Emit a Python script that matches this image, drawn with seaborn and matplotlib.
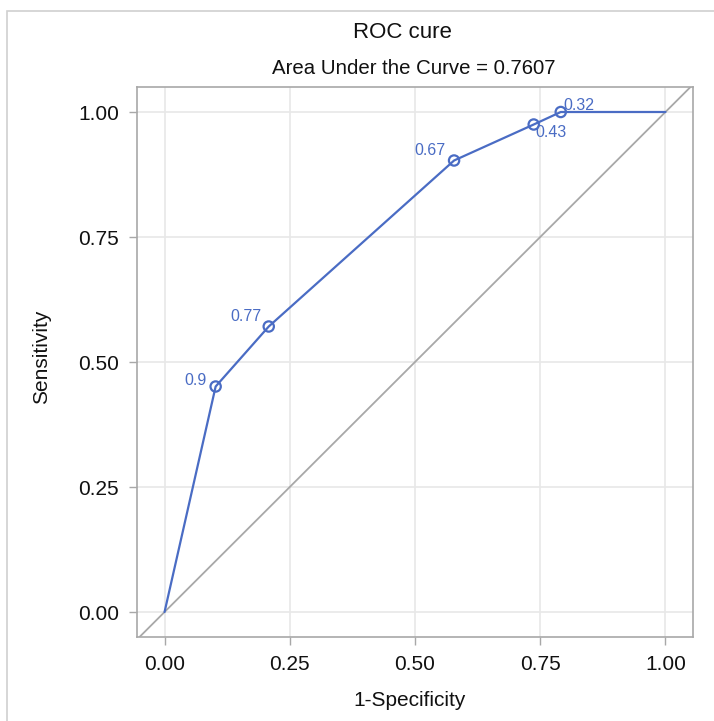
import numpy as np
import pandas as pd
import matplotlib
matplotlib.use('Agg')
import matplotlib.pyplot as plt
import seaborn as sns
from matplotlib.patches import Rectangle

# ROC points
fpr = [0.0, 0.102, 0.208, 0.578, 0.737, 0.791, 1.0]
tpr = [0.0, 0.451, 0.571, 0.903, 0.975, 1.0, 1.0]
cutoffs = ['', '0.9', '0.77', '0.67', '0.43', '0.32', '']
ticks = [0.0, 0.25, 0.50, 0.75, 1.00]
auc = 0.7607

sns.set_style('whitegrid')
plt.rcParams['font.family'] = ['Liberation Sans', 'DejaVu Sans']

roc = pd.DataFrame({'fpr': fpr, 'tpr': tpr, 'cut': cutoffs})
pts = roc[roc['cut'] != '']

blue = '#4A6CC4'
grey = '#A8A8A8'
ink = '#111111'

fig = plt.figure(figsize=(7.14, 7.21), dpi=100)
ax = fig.add_axes([137 / 714, 1 - 637 / 721, (693 - 137) / 714, (637 - 87) / 721])

# outer frame around the graph
fig.patches.append(Rectangle((7 / 714, -0.1), 1.2, 1 - 11 / 721 + 0.1,
                             transform=fig.transFigure, fill=False,
                             edgecolor='#D0D0D0', linewidth=1.2))

ax.plot([-0.05, 1.05], [-0.05, 1.05], color=grey, linewidth=1.3, zorder=1)
sns.lineplot(data=roc, x='fpr', y='tpr', sort=False, estimator=None,
             color=blue, linewidth=1.6, ax=ax, zorder=3)
sns.scatterplot(data=pts, x='fpr', y='tpr', marker='o', s=55,
                facecolor='none', edgecolor=blue, linewidth=1.6, ax=ax, zorder=4)

# cutoff labels (offset, alignment)
offsets = {'0.9': (-0.018, 0.012, 'right'),
           '0.77': (-0.015, 0.02, 'right'),
           '0.67': (-0.018, 0.02, 'right'),
           '0.43': (0.004, -0.016, 'left'),
           '0.32': (0.005, 0.014, 'left')}
for _, r in pts.iterrows():
    dx, dy, ha = offsets[r['cut']]
    ax.text(r['fpr'] + dx, r['tpr'] + dy, r['cut'], color=blue,
            fontsize=11.5, ha=ha, va='center', zorder=5)

ax.set_xlim(-0.055, 1.055)
ax.set_ylim(-0.05, 1.05)
ax.set_xticks(ticks)
ax.set_yticks(ticks)
ax.set_xticklabels([f'{t:.2f}' for t in ticks])
ax.set_yticklabels([f'{t:.2f}' for t in ticks])
ax.tick_params(axis='both', which='major', length=6, width=1, color=grey,
               labelsize=15, labelcolor=ink, pad=7, direction='out')
ax.tick_params(bottom=True, left=True)
ax.grid(True, color='#E8E8E8', linewidth=1.2)
for s in ax.spines.values():
    s.set_color(grey)
    s.set_linewidth(1.2)
ax.set_xlabel('')
ax.set_ylabel('')

fig.text(402 / 714, 1 - 33 / 721, 'ROC cure', ha='center', va='center', fontsize=16, color=ink)
fig.text(414 / 714, 1 - 68 / 721, f'Area Under the Curve = {auc:.4f}', ha='center', va='center',
         fontsize=14.7, color=ink)
fig.text(410 / 714, 1 - 700 / 721, '1-Specificity', ha='center', va='center', fontsize=15, color=ink)
fig.text(42 / 714, 1 - 357 / 721, 'Sensitivity', ha='center', va='center', rotation=90,
         fontsize=15, color=ink)

fig.savefig('out.png', dpi=100)
